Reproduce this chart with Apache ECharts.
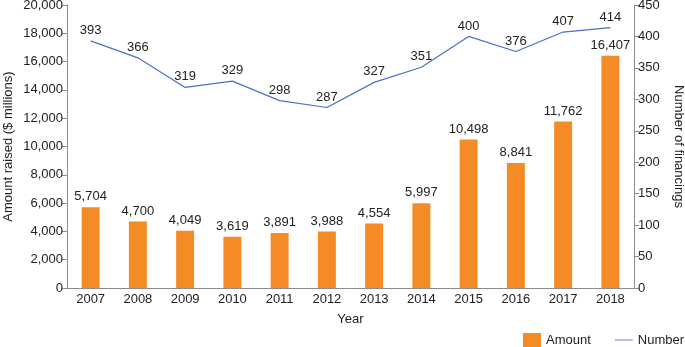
<!DOCTYPE html>
<html>
<head>
<meta charset="utf-8">
<script src="https://cdn.jsdelivr.net/npm/echarts@6/dist/echarts.min.js"></script>
<style>
  html, body { margin: 0; padding: 0; background: #fff; }
  #chart { width: 685px; height: 347px; }
</style>
</head>
<body>
<div id="chart"></div>
<script>
const years = ['2007', '2008', '2009', '2010', '2011', '2012', '2013', '2014', '2015', '2016', '2017', '2018']
const amount = [5704, 4700, 4049, 3619, 3891, 3988, 4554, 5997, 10498, 8841, 11762, 16407]
const number = [393, 366, 319, 329, 298, 287, 327, 351, 400, 376, 407, 414]

const font = 'Liberation Sans, Arial, Helvetica, sans-serif'
const axisGrey = '#8c8c8c'
const textColor = '#222'

const chart = echarts.init(document.getElementById('chart'))
chart.setOption({
  animation: false,
  textStyle: { fontFamily: font },
  grid: { left: 67, right: 51, top: 5, bottom: 59, outerBoundsMode: 'none', containLabel: false },
  legend: {
    right: 1,
    bottom: 0,
    padding: 0,
    itemGap: 24,
    itemWidth: 18,
    itemHeight: 14,
    textStyle: { fontSize: 13, color: textColor, fontFamily: font },
    data: [
      { name: 'Amount', icon: 'rect' },
      { name: 'Number', icon: 'path://M0,0 L20,0 L20,1 L0,1 Z', itemStyle: { color: '#4a72c4' } }
    ]
  },
  xAxis: {
    type: 'category',
    data: years,
    name: 'Year',
    nameLocation: 'middle',
    nameGap: 25,
    nameMoveOverlap: false,
    nameTextStyle: { fontSize: 13, color: textColor },
    axisLine: { lineStyle: { color: axisGrey } },
    axisTick: { show: false },
    axisLabel: { fontSize: 13, color: textColor, margin: 5 }
  },
  yAxis: [{
    type: 'value',
    min: 0,
    max: 20000,
    interval: 2000,
    name: 'Amount raised ($ millions)',
    nameLocation: 'middle',
    nameGap: 52,
    nameMoveOverlap: false,
    nameTextStyle: { fontSize: 13, color: textColor },
    axisLine: { show: true, lineStyle: { color: axisGrey } },
    axisTick: { show: true, length: 5, lineStyle: { color: axisGrey } },
    axisLabel: {
      fontSize: 13, color: textColor, margin: 4,
      formatter: v => v.toLocaleString('en-US')
    },
    splitLine: { show: false }
  }, {
    type: 'value',
    min: 0,
    max: 450,
    interval: 50,
    name: 'Number of financings',
    nameLocation: 'middle',
    nameGap: 38,
    nameMoveOverlap: false,
    nameRotate: -90,
    nameTextStyle: { fontSize: 13, color: textColor },
    axisLine: { show: true, lineStyle: { color: axisGrey } },
    axisTick: { show: true, length: 5, lineStyle: { color: axisGrey } },
    axisLabel: { fontSize: 13, color: textColor, margin: 4 },
    splitLine: { show: false }
  }],
  series: [{
    name: 'Amount',
    type: 'bar',
    barWidth: '38%',
    data: amount,
    itemStyle: { color: '#f48b25' },
    label: {
      show: true,
      position: 'top',
      distance: 4,
      fontSize: 13,
      color: textColor,
      formatter: p => p.value.toLocaleString('en-US')
    }
  }, {
    name: 'Number',
    type: 'line',
    yAxisIndex: 1,
    data: number,
    symbol: 'circle',
    symbolSize: 0,
    lineStyle: { color: '#4a72c4', width: 1.2 },
    itemStyle: { color: '#4a72c4' },
    label: {
      show: true,
      position: 'top',
      distance: 4,
      fontSize: 13,
      color: textColor
    }
  }]
})
</script>
</body>
</html>
